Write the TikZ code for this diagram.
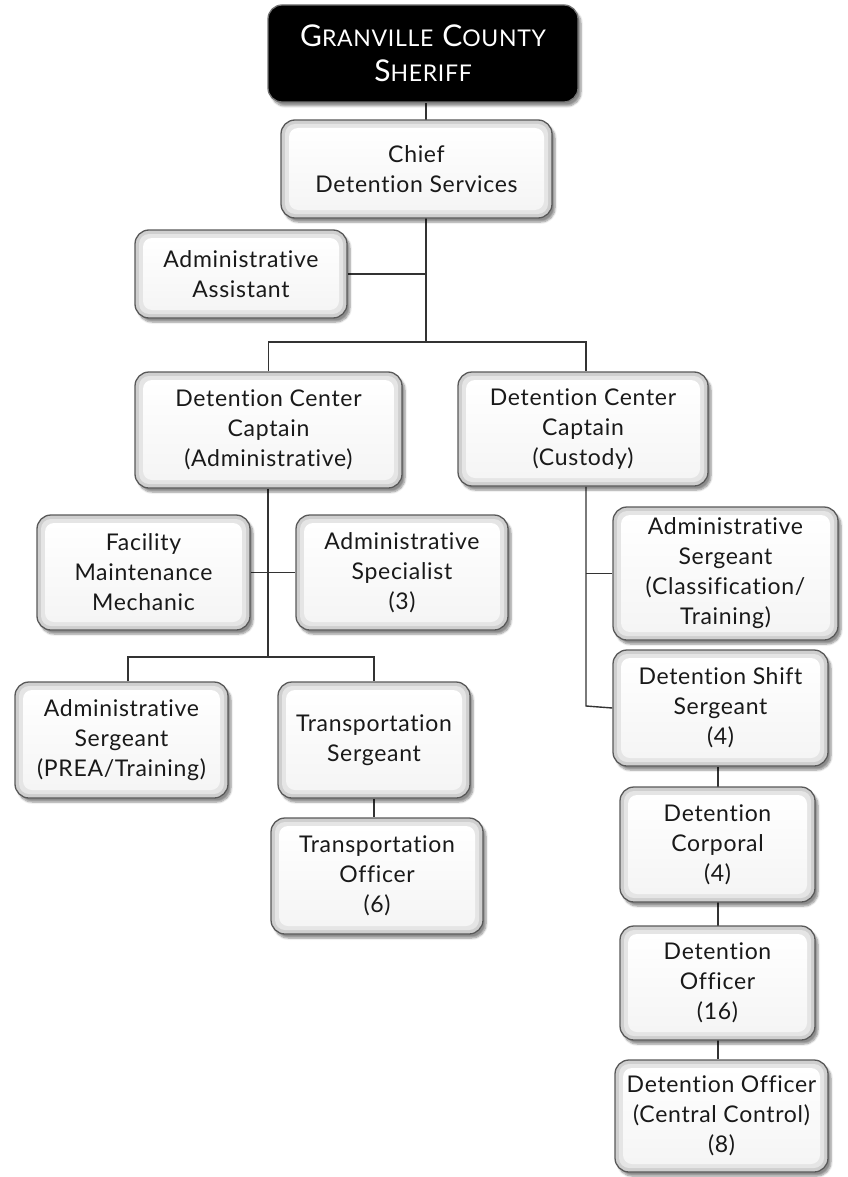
\documentclass[tikz,border=0pt]{standalone}
\usepackage{fontspec}
\setmainfont{Lato}[LetterSpace=3, Ligatures={NoCommon}]
\usetikzlibrary{shadows.blur,backgrounds}

% small caps by hand: large initial, smaller rest
\newcommand\capword[2]{{\fontsize{30}{35}\selectfont #1}{\fontsize{23}{35}\selectfont #2}}

\tikzset{
  x=1pt, y=-1pt,
  link/.style={draw=black!80, line width=1.4pt},
  box/.style={
    draw=black!65, line width=1.3pt, rounded corners=14pt,
    align=center, font=\fontsize{23}{30}\selectfont, text=black!90,
    blur shadow={shadow xshift=3pt, shadow yshift=-4pt, shadow blur steps=6, shadow opacity=45},
    path picture={
      \fill[gray!38] (path picture bounding box.south west) rectangle (path picture bounding box.north east);
      \fill[gray!20, rounded corners=10pt]
        ([shift={(4pt,4pt)}]path picture bounding box.south west) rectangle
        ([shift={(-4pt,-4pt)}]path picture bounding box.north east);
      \shade[top color=white, bottom color=gray!8, rounded corners=9pt]
        ([shift={(8pt,8pt)}]path picture bounding box.south west) rectangle
        ([shift={(-8pt,-8pt)}]path picture bounding box.north east);
    }},
  headbox/.style={
    draw=black!55, line width=1.3pt, rounded corners=14pt, fill=black,
    align=center, text=white, font=\fontsize{23}{35}\selectfont,
    blur shadow={shadow xshift=3pt, shadow yshift=-4pt, shadow blur steps=6, shadow opacity=45}},
}

\begin{document}
\begin{tikzpicture}
\useasboundingbox (0,0) rectangle (847,1177);

% top of the chain
\node[headbox, minimum width=310, minimum height=97] (sheriff) at (423,53.5)
  {\capword{G}{RANVILLE}\hspace{9pt}\capword{C}{OUNTY}\\\capword{S}{HERIFF}};
\node[box, minimum width=271, minimum height=98] (chief) at (416.5,169) {Chief\\Detention Services};
\node[box, minimum width=212, minimum height=88] (asst) at (241,274) {Administrative\\Assistant};

% the two captains
\node[box, minimum width=267, minimum height=116] (dcca) at (268.5,430) {Detention Center\\Captain\\(Administrative)};
\node[box, minimum width=250, minimum height=114] (dccc) at (583,429) {Detention Center\\Captain\\(Custody)};

% administrative side
\node[box, minimum width=213, minimum height=115] (fac) at (143.5,572.5) {Facility\\Maintenance\\Mechanic};
\node[box, minimum width=212, minimum height=115] (spec) at (402,572.5) {Administrative\\Specialist\\(3)};
\node[box, minimum width=213, minimum height=116] (prea) at (121.5,740) {Administrative\\Sergeant\\(PREA/Training)};
\node[box, minimum width=192, minimum height=116] (tsgt) at (374,740) {Transportation\\Sergeant};
\node[box, minimum width=212, minimum height=116] (toff) at (377,876) {Transportation\\Officer\\(6)};

% custody side
\node[box, minimum width=225, minimum height=133] (asgc) at (725.5,573.5) {Administrative\\Sergeant\\(Classification/\\Training)};
\node[box, minimum width=215, minimum height=116] (dss) at (720.5,708) {Detention Shift\\Sergeant\\(4)};
\node[box, minimum width=195, minimum height=115] (dcor) at (717.5,844.5) {Detention\\Corporal\\(4)};
\node[box, minimum width=195, minimum height=114] (doff) at (717.5,983) {Detention\\Officer\\(16)};
\node[box, minimum width=213, minimum height=112] (docc) at (721.5,1116) {Detention Officer\\(Central Control)\\(8)};

% junction points of the connectors
\coordinate (trunk) at (426,342);
\coordinate (adm) at (268,657);
\coordinate (adml) at (128,657);
\coordinate (cus) at (586,706);
\coordinate (chain) at (718,0);

\begin{scope}[on background layer]
  \draw[link] (sheriff.south -| trunk) -- (trunk);
  \draw[link] (asst.east) -- (asst.east -| trunk);
  \draw[link] (dcca.north) -- (dcca.north |- trunk) -- (trunk -| cus) -- (dccc.north -| cus);
  % administrative captain
  \draw[link] (dcca.south -| adm) -- (adm);
  \draw[link] (fac.east) -- (spec.west);
  \draw[link] (prea.north -| adml) -- (adml) -- (adm -| tsgt.north) -- (tsgt.north);
  \draw[link] (tsgt.south) -- (toff.north -| tsgt.south);
  % custody captain
  \draw[link] (dccc.south -| cus) -- (cus) -- (dss.west);
  \draw[link] (asgc.west) -- (asgc.west -| cus);
  \draw[link] (dss.south -| chain) -- (docc.north -| chain);
\end{scope}
\end{tikzpicture}
\end{document}
